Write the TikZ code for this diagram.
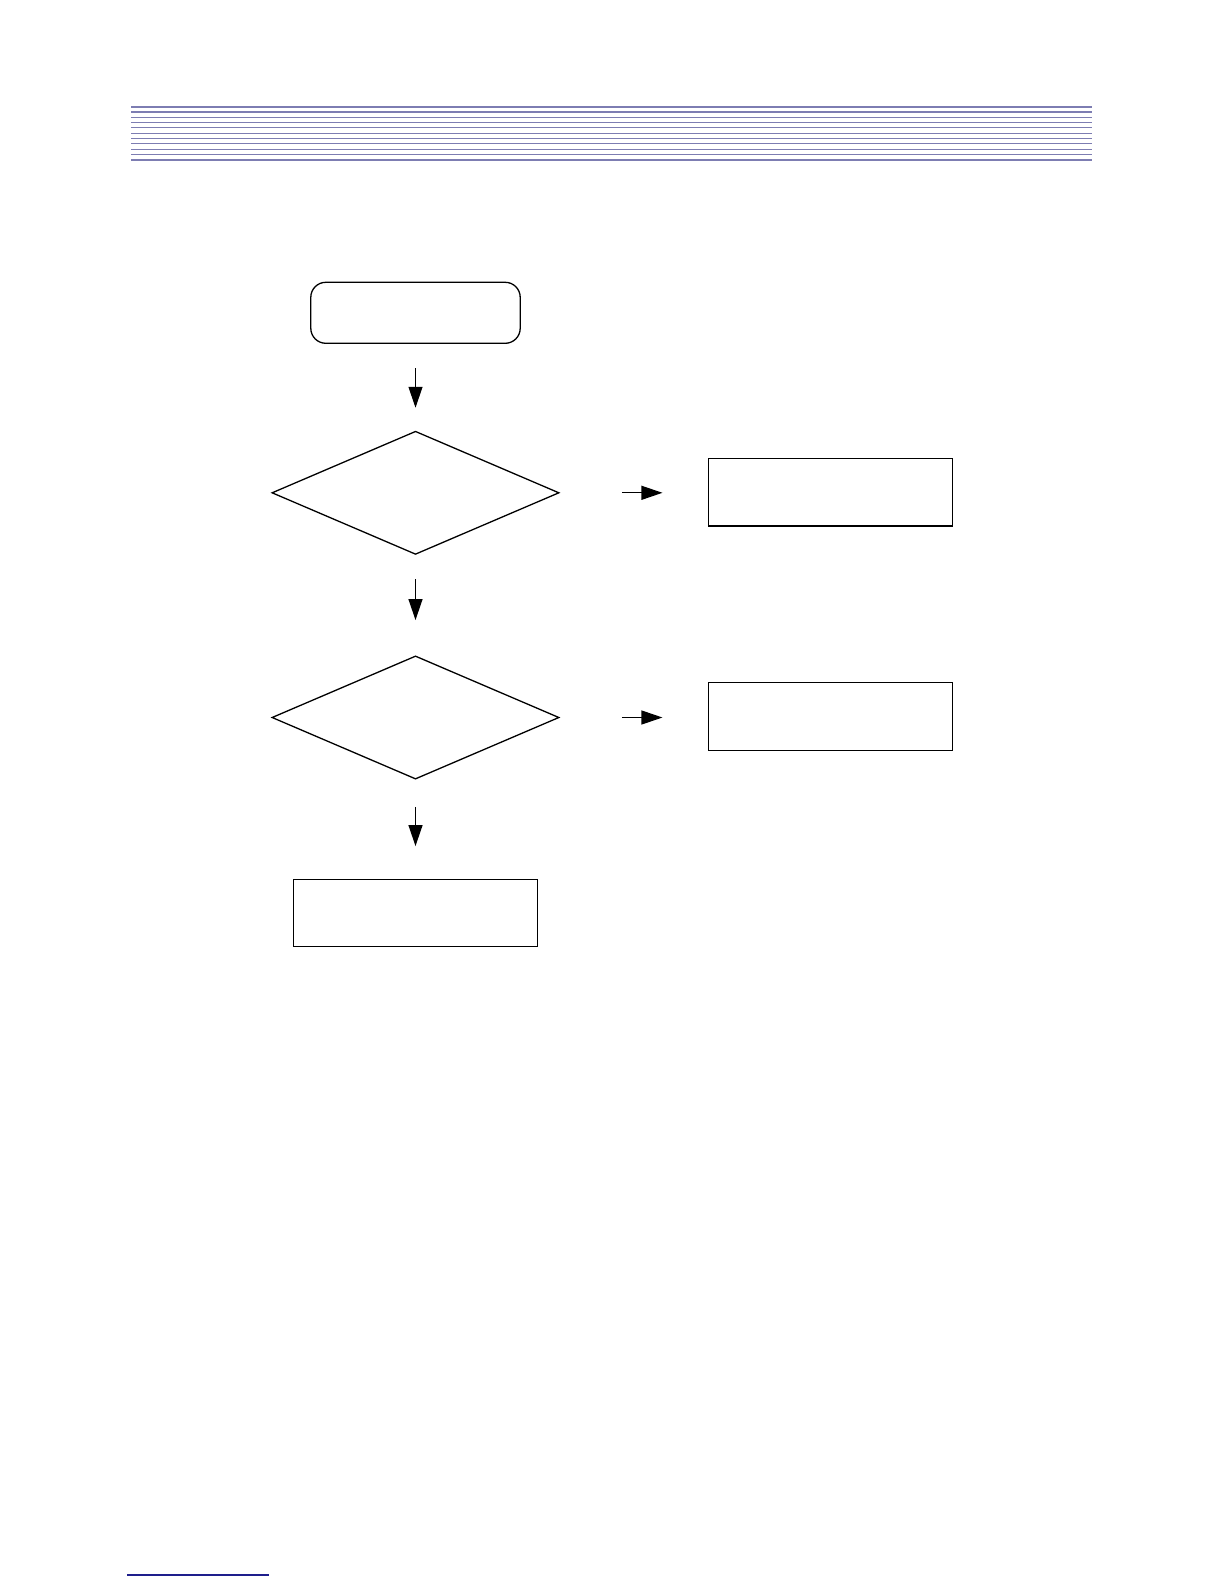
\documentclass[tikz,border=0pt]{standalone}
\usetikzlibrary{arrows.meta, shapes.geometric}
\definecolor{rulecol}{RGB}{125,125,178}
\definecolor{footcol}{RGB}{30,30,140}

\begin{document}
\begin{tikzpicture}[
    x=0.5pt, y=-0.5pt,
    startbox/.style={draw, rounded corners=7.5pt, minimum width=104.7pt,
                     minimum height=30.5pt, inner sep=0pt},
    decision/.style={draw, diamond, minimum width=143.6pt,
                     minimum height=61.6pt, inner sep=0pt},
    stepbox/.style={draw, minimum width=122pt, minimum height=33.7pt,
                    inner sep=0pt},
    flow/.style={-{Triangle[length=10.5pt, width=7pt]}, line width=0.6pt},
    line width=0.65pt
  ]
  \useasboundingbox (0,0) rectangle (1224,1584);

  % Header rules
  \foreach \i in {0,...,10} {
    \draw[rulecol, line width=0.6pt] (131, 106.7+\i*5.3) -- (1092, 106.7+\i*5.3);
  }
  \draw[rulecol, line width=1.1pt] (131,106.7) -- (1092,106.7);
  \draw[rulecol, line width=1.1pt] (131,159.7) -- (1092,159.7);

  % Flow chart
  \node[startbox] (start) at (415.5, 312.8) {};
  \node[decision] (dia1) at (415.5, 492.8) {};
  \node[decision] (dia2) at (415.5, 717.5) {};
  \node[stepbox] (box1) at (830.5, 492.3) {};
  \node[stepbox] (box2) at (830.5, 716.5) {};
  \node[stepbox] (bot) at (415.5, 913) {};

  % Arrows
  \draw[flow, shorten <=12.2pt, shorten >=11.4pt] (start.south) -- (dia1.north);
  \draw[flow, shorten <=12.2pt, shorten >=17.6pt] (dia1.south) -- (dia2.north);
  \draw[flow, shorten <=13.5pt, shorten >=16.3pt] (dia2.south) -- (bot.north);
  \draw[flow, shorten <=31pt, shorten >=22.7pt] (dia1.east) -- (box1.west |- dia1.east);
  \draw[flow, shorten <=31pt, shorten >=22.7pt] (dia2.east) -- (box2.west |- dia2.east);

  % Footer rule
  \draw[footcol, line width=0.7pt] (127.3,1575) -- (269,1575);
\end{tikzpicture}
\end{document}
